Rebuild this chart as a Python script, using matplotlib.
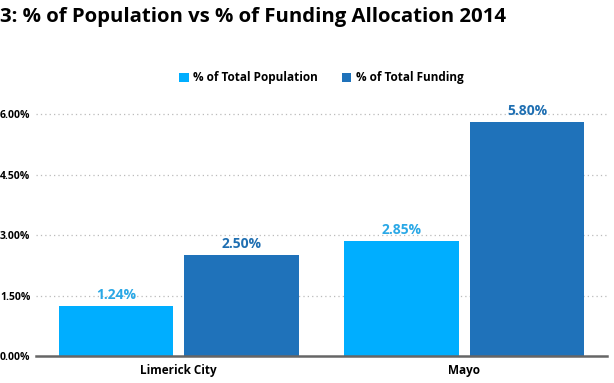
import numpy as np
import matplotlib.pyplot as plt

# data
categories = ['Limerick City', 'Mayo']
series_names = ['% of Total Population', '% of Total Funding']
population = [1.24, 2.85]
funding = [2.50, 5.80]
yticks = [0.0, 1.5, 3.0, 4.5, 6.0]

light = '#00AEFF'
dark = '#1F72BA'

plt.rcParams['font.family'] = ['Open Sans', 'DejaVu Sans']

fig = plt.figure(figsize=(6.14, 3.83), dpi=100)
ax = fig.add_axes([36 / 614, 1 - 356 / 383, 571 / 614, 260 / 383])

x = np.arange(len(categories))
w = 0.4
off = 0.22
b1 = ax.bar(x - off, population, w, color=light, label=series_names[0])
b2 = ax.bar(x + off, funding, w, color=dark, label=series_names[1])

# value labels above bars
for bars, vals, c in [(b1, population, '#2AA8E6'), (b2, funding, '#1F6FB2')]:
    for r, v in zip(bars, vals):
        ax.text(r.get_x() + r.get_width() / 2, v + 0.1, '%.2f%%' % v,
                ha='center', va='bottom', color=c, fontsize=10, fontweight='bold')

ax.set_xlim(-0.5, 1.5)
ax.set_ylim(0, 6.45)
ax.set_yticks(yticks)
ax.set_yticklabels(['%.2f%%' % t for t in yticks], fontsize=7.5, fontweight='bold')
ax.set_xticks(x)
ax.set_xticklabels(categories, fontsize=8.5, fontweight='bold')
ax.tick_params(length=0, pad=6)
ax.tick_params(axis='y', pad=4)

for t in yticks[1:]:
    ax.axhline(t, color='#bbbbbb', lw=0.9, ls=(0, (1, 2.5)), zorder=0)
for s in ['top', 'right', 'left']:
    ax.spines[s].set_visible(False)
ax.spines['bottom'].set_color('#666666')
ax.spines['bottom'].set_linewidth(1.8)

ax.legend(loc='center', bbox_to_anchor=(0.5, 1.07), ncol=2, frameon=False,
          prop={'size': 8.5, 'weight': 'bold'}, handlelength=0.8, handleheight=0.8,
          columnspacing=2.0, handletextpad=0.4)

fig.text(0.0, 0.955, '3: % of Population vs % of Funding Allocation 2014',
         ha='left', va='center', fontsize=14.7, fontweight='bold')

fig.savefig('out.png', dpi=100)
